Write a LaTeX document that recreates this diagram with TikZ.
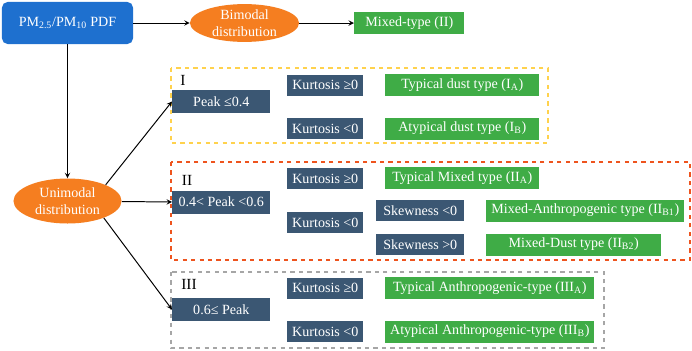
\documentclass[tikz,border=0pt]{standalone}
\usepackage{fontspec}
\setmainfont{Liberation Serif}
\usetikzlibrary{shapes.geometric}

\definecolor{srcblue}{RGB}{30,112,207}
\definecolor{distorange}{RGB}{245,126,32}
\definecolor{condblue}{RGB}{59,87,115}
\definecolor{typgreen}{RGB}{63,172,70}
\definecolor{frameyellow}{RGB}{255,210,77}
\definecolor{framered}{RGB}{238,84,30}
\definecolor{framegray}{RGB}{166,166,166}

\begin{document}
\begin{tikzpicture}[
            x=0.025cm, y=-0.025cm,
            font=\fontsize{10}{12}\selectfont,
            box/.style={rectangle, inner sep=0pt, text=white, align=center},
            src/.style={box, fill=srcblue, rounded corners=4pt, minimum width=3.275cm, minimum height=1.05cm},
            dist/.style={ellipse, fill=distorange, text=white, align=center, inner sep=0pt},
            cond/.style={box, fill=condblue, minimum height=0.525cm, anchor=west},
            peak/.style={cond, minimum width=2.45cm, minimum height=0.575cm},
            kurt/.style={cond, minimum width=1.9cm},
            skew/.style={cond, minimum width=2.2cm},
            typ/.style={box, fill=typgreen, minimum height=0.55cm, anchor=west},
            grp/.style={font=\fontsize{11}{13}\selectfont},
            link/.style={->, >=stealth, line width=0.7pt},
            frame/.style={dashed, line width=0.9pt}
        ]
            \useasboundingbox (0,0) rectangle (692,350);

            % --- groups ---
            \draw[frame, frameyellow] (171,68) rectangle (548,143);
            \draw[frame, framered] (171,162) rectangle (690,260);
            \draw[frame, framegray] (171,272) rectangle (604,348);
            \node[grp] (gI) at (183,80) {I};
            \node[grp] (gII) at (187,180) {II};
            \node[grp] (gIII) at (189,284) {III};

            % --- top row ---
            \node[src] (pdf) at (67.5,23) {PM\textsubscript{2.5}/PM\textsubscript{10} PDF};
            \node[dist, minimum width=2.725cm, minimum height=0.925cm] (bi) at (244.5,23) {Bimodal\\distribution};
            \node[typ, minimum width=2.75cm] (mix) at (354,23) {Mixed-type (II)};
            \node[dist, minimum width=2.7cm, minimum height=1.125cm] (uni) at (67.5,201) {Unimodal\\distribution};

            % --- peak ---
            \node[peak] (p1) at (172,101.5) {Peak ≤0.4};
            \node[peak] (p2) at (172,202) {0.4< Peak <0.6};
            \node[peak] (p3) at (172,309.5) {0.6≤ Peak};

            % --- kurtosis / skewness ---
            \node[kurt] (k1a) at (287,85) {Kurtosis ≥0};
            \node[kurt] (k1b) at (287,128.5) {Kurtosis <0};
            \node[kurt] (k2a) at (287,178.5) {Kurtosis ≥0};
            \node[kurt] (k2b) at (287,222.5) {Kurtosis <0};
            \node[kurt] (k3a) at (287,288) {Kurtosis ≥0};
            \node[kurt] (k3b) at (287,331.5) {Kurtosis <0};
            \node[skew] (s2a) at (376,210.5) {Skewness <0};
            \node[skew] (s2b) at (376,244.5) {Skewness >0};

            % --- types ---
            \node[typ, minimum width=3.85cm] (t1a) at (385,85) {Typical dust type (I\textsubscript{A})};
            \node[typ, minimum width=3.85cm] (t1b) at (385,128.5) {Atypical dust type (I\textsubscript{B})};
            \node[typ, minimum width=3.85cm] (t2a) at (385,178) {Typical Mixed type (II\textsubscript{A})};
            \node[typ, minimum width=4.95cm] (t2b1) at (486,210.5) {Mixed-Anthropogenic type (II\textsubscript{B1})};
            \node[typ, minimum width=4.375cm] (t2b2) at (486,244.5) {Mixed-Dust type (II\textsubscript{B2})};
            \node[typ, minimum width=5.225cm] (t3a) at (385,288) {Typical Anthropogenic-type (III\textsubscript{A})};
            \node[typ, minimum width=5.225cm] (t3b) at (385,331.5) {Atypical Anthropogenic-type (III\textsubscript{B})};

            % --- links ---
            \draw[link] (pdf) -- (bi);
            \draw[link] (bi) -- (mix);
            \draw[link] (pdf) -- (uni);
            \draw[link] (uni.23) -- (p1.west);
            \draw[link] (uni) -- (p2.west);
            \draw[link] (uni.-25) -- (p3.west);

        \end{tikzpicture}
\end{document}
